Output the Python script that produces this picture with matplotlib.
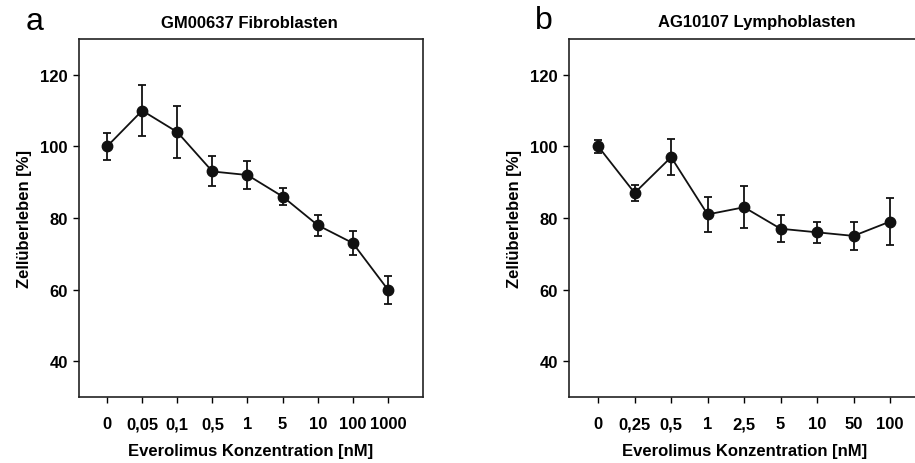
import numpy as np
import matplotlib.pyplot as plt

plt.rcParams['font.family'] = ['Liberation Sans', 'DejaVu Sans']

# Panel a: GM00637 Fibroblasten
labels_a = ['0', '0,05', '0,1', '0,5', '1', '5', '10', '100', '1000']
mean_a = [100, 110, 104, 93, 92, 86, 78, 73, 60]
err_a = [3.7, 7.2, 7.3, 4.2, 4.0, 2.5, 2.9, 3.3, 3.9]

# Panel b: AG10107 Lymphoblasten
labels_b = ['0', '0,25', '0,5', '1', '2,5', '5', '10', '50', '100']
mean_b = [100, 87, 97, 81, 83, 77, 76, 75, 79]
err_b = [1.8, 2.2, 5.0, 5.0, 5.9, 3.8, 3.0, 4.0, 6.6]

W, H = 915, 464
fig = plt.figure(figsize=(W / 100, H / 100), dpi=100)
FS = 12


def px_axes(left, top, right, bottom):
    return fig.add_axes([left / W, 1 - bottom / H, (right - left) / W, (bottom - top) / H])


def panel(ax, labels, mean, err, xmax):
    x = np.arange(len(labels))
    ax.errorbar(x, mean, yerr=err, color='#111111', lw=1.3, marker='o', ms=7.5,
                capsize=3.2, elinewidth=1.3, capthick=1.3)
    ax.set_xlim(-0.8, xmax)
    ax.set_ylim(30, 130)
    ax.set_yticks([40, 60, 80, 100, 120])
    ax.set_xticks(x)
    ax.set_xticklabels(labels)
    ax.tick_params(direction='out', length=4, width=1, labelsize=FS, pad=10)
    ax.tick_params(axis='y', pad=4)
    for lab in ax.get_xticklabels() + ax.get_yticklabels():
        lab.set_fontweight('bold')
    for sp in ax.spines.values():
        sp.set_linewidth(1.2)
        sp.set_color('#222222')
    ax.set_xlabel('Everolimus Konzentration [nM]', fontsize=FS, fontweight='bold', labelpad=8)
    ax.set_ylabel('Zellüberleben [%]', fontsize=FS, fontweight='bold', labelpad=6)


ax1 = px_axes(79, 40, 423, 398)
panel(ax1, labels_a, mean_a, err_a, 9.0)

ax2 = px_axes(569, 40, 921, 398)
panel(ax2, labels_b, mean_b, err_b, 8.85)

fig.text(249 / W, 1 - 23 / H, 'GM00637 Fibroblasten', ha='center', va='center',
         fontsize=FS, fontweight='bold')
fig.text(757 / W, 1 - 23 / H, 'AG10107 Lymphoblasten', ha='center', va='center',
         fontsize=FS, fontweight='bold')

fig.text(35 / W, 1 - 22 / H, 'a', ha='center', va='center', fontsize=23)
fig.text(544 / W, 1 - 21 / H, 'b', ha='center', va='center', fontsize=23)

fig.savefig('out.png', dpi=100)
